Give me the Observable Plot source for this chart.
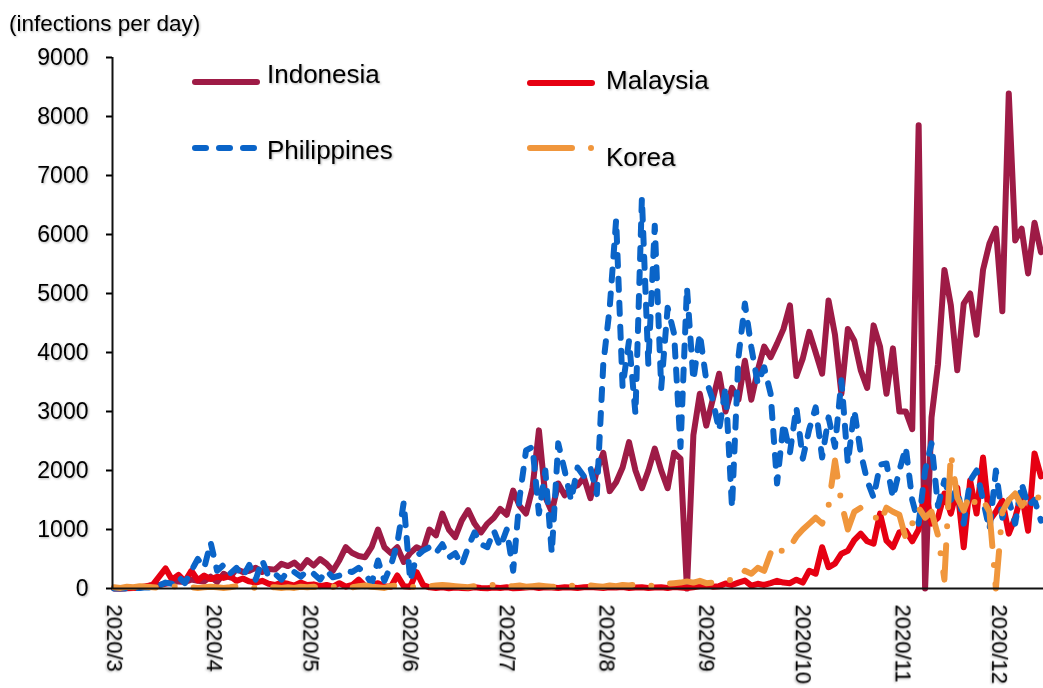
<!DOCTYPE html>
<html>
<head>
<meta charset="utf-8">
<script src="https://cdn.jsdelivr.net/npm/d3@7"></script>
<script src="https://cdn.jsdelivr.net/npm/@observablehq/plot@0.6"></script>
<style>
  body { margin: 0; background: #fff; }
  #wrap { position: relative; width: 1043px; height: 688px; overflow: hidden; font-family: "Liberation Sans", Arial, sans-serif; }
  #wrap svg text { filter: drop-shadow(1.5px 1.5px 1px rgba(0,0,0,0.3)); }
  #overlay { position: absolute; left: 0; top: 0; pointer-events: none; }
</style>
</head>
<body>
<div id="wrap"></div>
<script>
// ---- data (daily new infections, sampled every 2 days from 2020-03-01) ----
const startDay = "2020-03-01";
const stepDays = 2;

const indonesia = [
  0,0,5,10,20,30,60,60,80,100,
  120,110,150,130,120,200,110,250,190,330,
  280,300,350,280,330,320,420,380,440,340,
  480,390,500,420,300,480,700,600,550,530,
  700,1000,700,600,700,450,600,700,650,1000,
  900,1270,1000,870,1150,1330,1100,950,1100,1200,
  1350,1250,1660,1400,1270,1700,2680,1550,1300,1780,
  1580,1700,1750,1880,1530,2000,2300,1650,1800,2050,
  2480,2000,1700,2000,2370,2000,1700,2300,2200,0,
  2600,3300,2760,3200,3640,3000,3400,3200,3860,3200,
  3700,4100,3920,4150,4400,4800,3600,3900,4350,4000,
  3640,4880,4300,3300,4400,4200,3700,3400,4460,4100,
  3300,4070,3000,3000,2700,7850,0,2900,3800,5400,
  4800,3700,4830,5000,4300,5400,5850,6100,4700,8390,
  5900,6100,5340,6200,5700
];

const malaysia = [
  5,0,10,10,20,40,60,200,340,150,
  230,120,300,140,220,160,200,180,210,130,
  170,120,100,130,80,60,100,80,50,100,
  60,70,40,60,30,90,30,60,150,40,
  60,90,40,30,220,40,30,277,60,20,
  10,20,5,15,10,5,20,10,5,15,
  10,20,5,10,15,25,10,20,15,10,
  20,15,10,20,25,15,10,20,15,25,
  10,15,20,10,15,20,10,25,15,10,
  20,40,60,30,40,85,60,100,135,50,
  80,60,90,130,100,90,150,100,300,250,
  700,360,420,590,640,820,930,800,760,1270,
  810,700,950,980,800,1000,1710,1100,1200,1610,
  1270,1710,700,1830,1270,2220,1150,1300,1490,930,
  1200,1610,980,2290,1900
];

const philippines = [
  0,0,0,5,10,20,10,50,100,80,
  200,90,300,500,350,780,300,400,250,350,
  200,400,150,480,200,250,150,300,280,200,
  300,250,150,300,190,220,300,280,350,250,
  85,475,130,390,760,1460,130,550,640,700,
  600,750,525,600,390,700,950,750,700,980,
  700,1000,300,1540,2340,2400,1270,2000,600,2460,
  2000,1490,2050,1900,2050,1600,3800,4760,6250,3410,
  4200,2960,6620,3800,6150,3400,4760,4320,2400,5100,
  3530,4320,3530,3200,2680,3410,1370,3920,4830,4090,
  3470,3750,3300,1780,2800,2300,3070,2200,2700,3070,
  2220,2900,2400,3530,2120,3020,2300,1830,1540,2100,
  2120,1540,2000,2390,1500,1100,2000,2460,1400,1830,
  1500,1700,1100,1830,2000,1500,1000,2000,1200,1500,
  1100,1780,1400,1500,1150
];

const korea = [
  20,10,30,20,40,30,20,10,20,30,
  40,30,20,10,20,30,20,10,20,40,
  30,20,10,20,30,20,10,20,10,30,
  20,30,10,20,30,20,10,20,40,50,
  30,20,10,40,50,40,30,20,30,40,
  50,60,50,40,30,20,40,60,50,60,
  40,30,40,50,30,40,50,40,30,20,
  40,50,40,60,50,40,30,50,40,60,
  50,70,60,40,50,60,80,90,100,120,
  100,130,90,100,120,130,150,150,300,250,
  350,300,600,750,600,700,880,1000,1100,1200,
  1100,1400,2170,1450,1000,1300,1370,1300,1250,1100,
  1370,1300,1250,850,1100,1370,1200,1300,900,150,
  2290,1540,1320,1610,1400,1500,1300,0,1300,1500,
  1610,1400,1540,1600,1500
];

const seriesNames = ["Indonesia", "Malaysia", "Philippines", "Korea"];
const seriesValues = [indonesia, malaysia, philippines, korea];
const monthTicks = ["2020-03-01","2020-04-01","2020-05-01","2020-06-01","2020-07-01",
                    "2020-08-01","2020-09-01","2020-10-01","2020-11-01","2020-12-01"];
const monthLabels = ["2020/3","2020/4","2020/5","2020/6","2020/7","2020/8","2020/9","2020/10","2020/11","2020/12"];
const yTicks = [0,1000,2000,3000,4000,5000,6000,7000,8000,9000];
const yUnit = "(infections per day)";

// ---- styles ----
const styles = {
  Indonesia:   {stroke: "#9E1B46", dash: null},
  Malaysia:    {stroke: "#E60012", dash: null},
  Philippines: {stroke: "#0A64C8", dash: "11,13"},
  Korea:       {stroke: "#F0963C", dash: "42,19,0,19"}
};

const day0 = new Date(startDay + "T00:00:00Z").getTime();
const rows = seriesNames.flatMap((name, k) =>
  seriesValues[k].map((v, i) => ({name, date: new Date(day0 + i * stepDays * 864e5), value: v})));

const tickDates = monthTicks.map(s => new Date(s + "T00:00:00Z"));
const labelOf = new Map(tickDates.map((d, i) => [d.getTime(), monthLabels[i]]));

const xDomain = [new Date(Date.UTC(2020,1,29,12)), new Date(Date.UTC(2020,11,14,19))];

const lineMarks = seriesNames.map(name => Plot.line(rows.filter(r => r.name === name), {
  x: "date", y: "value",
  stroke: styles[name].stroke,
  strokeWidth: 6,
  strokeDasharray: styles[name].dash,
  strokeLinecap: "round",
  strokeLinejoin: "round"
}));

const chart = Plot.plot({
  width: 1043,
  height: 688,
  marginLeft: 112,
  marginRight: 0,
  marginTop: 57,
  marginBottom: 100,
  style: {fontFamily: '"Liberation Sans", Arial, sans-serif', fontSize: "23px", color: "#000", background: "transparent", overflow: "visible"},
  x: {type: "utc", domain: xDomain},
  y: {domain: [0, 9000]},
  marks: [
    ...lineMarks,
    Plot.ruleY([0], {stroke: "#111", strokeWidth: 2}),
    Plot.ruleX([xDomain[0]], {y1: 0, y2: 9000, stroke: "#111", strokeWidth: 2}),
    Plot.axisY(yTicks, {tickSize: 6, tickPadding: 18, strokeWidth: 2, label: null, fill: "#000",
      tickFormat: d => String(d)}),
    Plot.axisX(tickDates, {tickSize: 0, tickPadding: 16, tickRotate: 90, label: null, fill: "#000",
      fontSize: 22, tickFormat: d => labelOf.get(d.getTime())})
  ]
});

const wrap = document.getElementById("wrap");
wrap.appendChild(chart);

// ---- overlay: unit label and legend ----
const ov = d3.select(wrap).append("svg").attr("id", "overlay")
  .attr("width", 1043).attr("height", 688)
  .style("font-family", '"Liberation Sans", Arial, sans-serif');

ov.append("text").attr("x", 9).attr("y", 31).attr("font-size", 22.5).attr("fill", "#000").text(yUnit);

const legendPos = {
  Indonesia:   {lx: 195, ly: 82,  tx: 267, ty: 83},
  Malaysia:    {lx: 530, ly: 83,  tx: 606, ty: 89},
  Philippines: {lx: 195, ly: 148, tx: 267, ty: 159},
  Korea:       {lx: 530, ly: 148, tx: 606, ty: 166}
};
seriesNames.forEach(name => {
  const p = legendPos[name], s = styles[name];
  ov.append("line").attr("x1", p.lx).attr("x2", p.lx + 62).attr("y1", p.ly).attr("y2", p.ly)
    .attr("stroke", s.stroke).attr("stroke-width", 6).attr("stroke-linecap", "round")
    .attr("stroke-dasharray", s.dash);
  ov.append("text").attr("x", p.tx).attr("y", p.ty).attr("font-size", 26).attr("fill", "#000").text(name);
});
</script>
</body>
</html>
